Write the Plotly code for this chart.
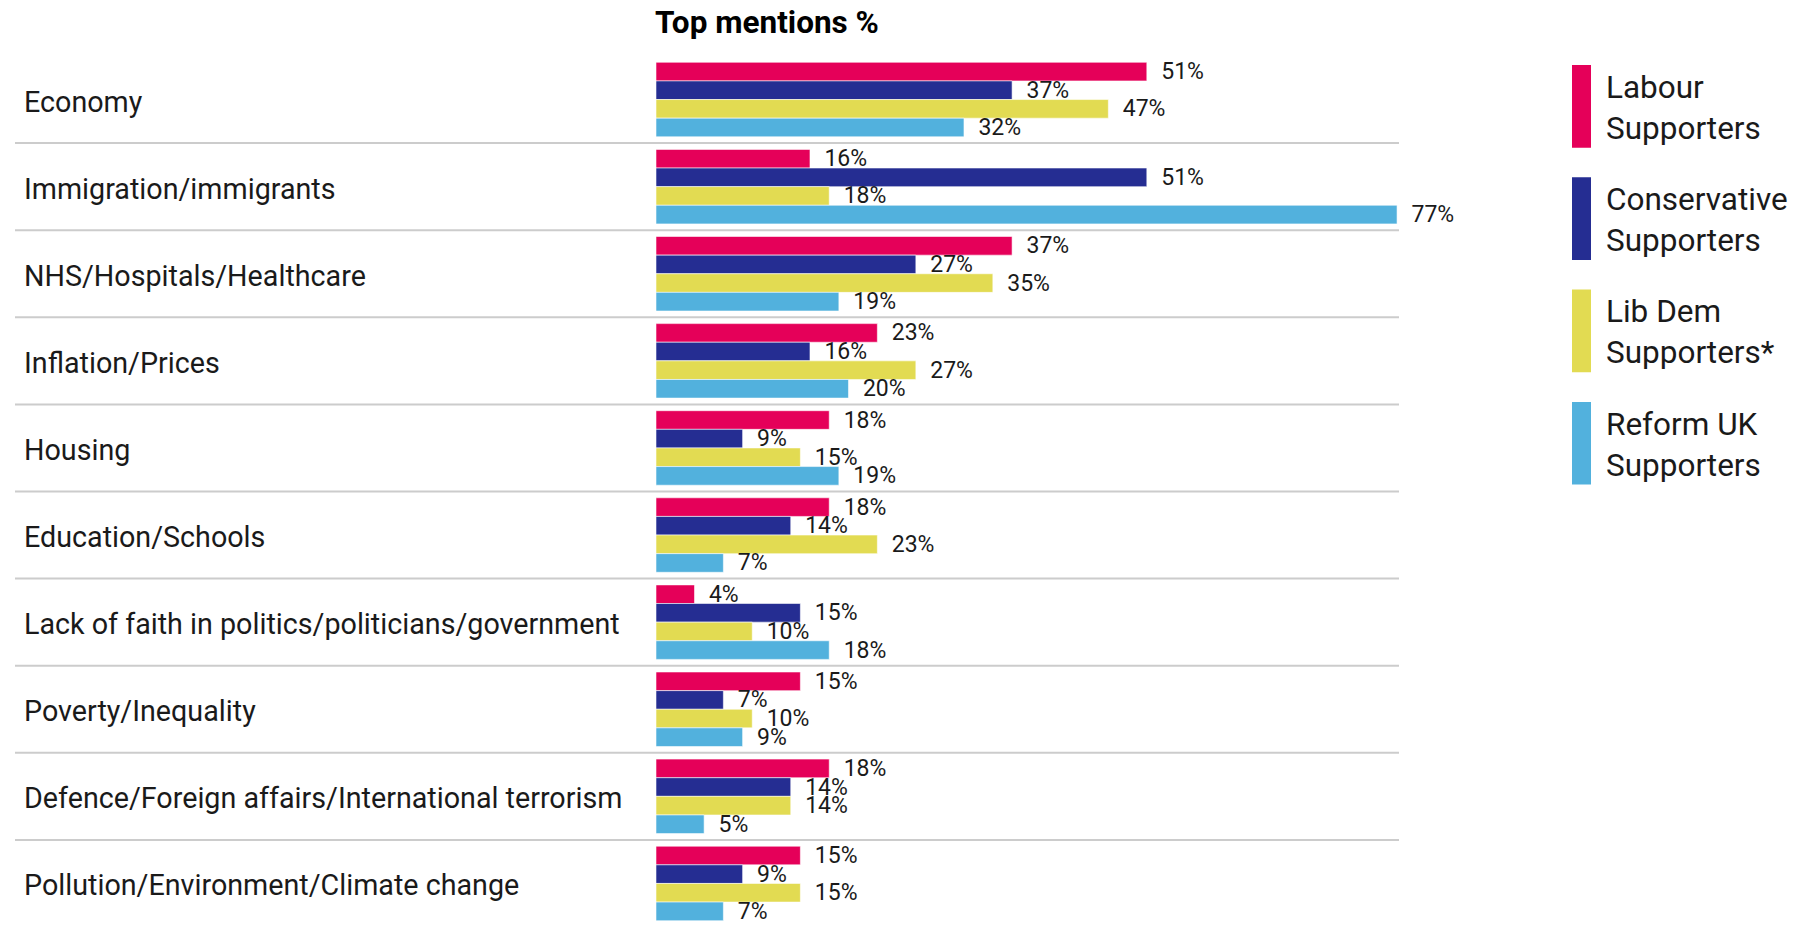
import plotly.graph_objects as go

categories = [
    "Economy",
    "Immigration/immigrants",
    "NHS/Hospitals/Healthcare",
    "Inflation/Prices",
    "Housing",
    "Education/Schools",
    "Lack of faith in politics/politicians/government",
    "Poverty/Inequality",
    "Defence/Foreign affairs/International terrorism",
    "Pollution/Environment/Climate change",
]

series_names = ["Labour<br>Supporters", "Conservative<br>Supporters",
                "Lib Dem<br>Supporters*", "Reform UK<br>Supporters"]
labour = [51, 16, 37, 23, 18, 18, 4, 15, 18, 15]
conservative = [37, 51, 27, 16, 9, 14, 15, 7, 14, 9]
libdem = [47, 18, 35, 27, 15, 23, 10, 10, 14, 15]
reform = [32, 77, 19, 20, 19, 7, 18, 9, 5, 7]
series_values = [labour, conservative, libdem, reform]
colors = ["#E50059", "#252D92", "#E2DB52", "#52B1DD"]

title_text = "Top mentions %"

# page has an 8px body margin; work in page pixels and convert
OFF = 8
W = 1813 - OFF
H = 927 - OFF
L = 656 - OFF
R = 1813 - 1399
T = 56 - OFF
B = 0
PW = W - L - R
PH = H - T - B

def px_x(px):
    return (px - OFF - L) / PW

def px_y(py):
    return 1 - (py - OFF - T) / PH

FONT = "Roboto"

fig = go.Figure()
for name, vals, col in zip(series_names, series_values, colors):
    fig.add_trace(go.Bar(
        y=categories, x=vals, orientation="h", name=name.replace("<br>", " "),
        marker=dict(color=col, line=dict(color="rgba(255,255,255,0.7)", width=0.8)),
        text=[f"\u00a0\u00a0{v}%" for v in vals],
        textposition="outside",
        textfont=dict(family=FONT, size=23, color="#1a1a1a"),
        cliponaxis=False,
        hoverinfo="skip",
    ))

shapes = []
for i in range(len(categories) - 1):
    shapes.append(dict(type="line", xref="paper", yref="y",
                       x0=px_x(15), x1=1.0, y0=i + 0.5, y1=i + 0.5,
                       line=dict(color="#cccccc", width=2), layer="below"))

annotations = []
for c in categories:
    annotations.append(dict(x=px_x(22), xref="paper", y=c, yref="y", text=c,
                            xanchor="left", yanchor="middle", showarrow=False,
                            yshift=-2,
                            font=dict(family=FONT, size=28.7, color="#1a1a1a")))

annotations.append(dict(x=px_x(653), xref="paper", y=px_y(22), yref="paper",
                        text="<b>" + title_text + "</b>",
                        xanchor="left", yanchor="middle", showarrow=False,
                        font=dict(family=FONT, size=31.5, color="#000000")))

# custom legend
leg_top0 = 65
leg_step = 112.3
leg_h = 82.7
for k, (name, col) in enumerate(zip(series_names, colors)):
    top = leg_top0 + k * leg_step
    shapes.append(dict(type="rect", xref="paper", yref="paper",
                       x0=px_x(1572), x1=px_x(1591), y0=px_y(top), y1=px_y(top + leg_h),
                       fillcolor=col, line=dict(width=0)))
    annotations.append(dict(x=px_x(1604), xref="paper", y=px_y(top + leg_h / 2 + 1.5), yref="paper",
                            text=name, align="left", xanchor="left", yanchor="middle",
                            showarrow=False,
                            font=dict(family=FONT, size=31.5, color="#1a1a1a")))

fig.update_layout(
    width=W, height=H,
    margin=dict(l=L, r=R, t=T, b=B, pad=0),
    barmode="group", bargap=0.145, bargroupgap=0,
    plot_bgcolor="white", paper_bgcolor="white",
    showlegend=False,
    xaxis=dict(range=[0, PW / 9.624], showgrid=False, zeroline=False,
               showticklabels=False, showline=False, fixedrange=True),
    yaxis=dict(autorange="reversed", showgrid=False, zeroline=False,
               showticklabels=False, showline=False, fixedrange=True),
    shapes=shapes,
    annotations=annotations,
)
fig.update_traces(constraintext="none")

fig.write_html("out.html", config={"displayModeBar": False})
